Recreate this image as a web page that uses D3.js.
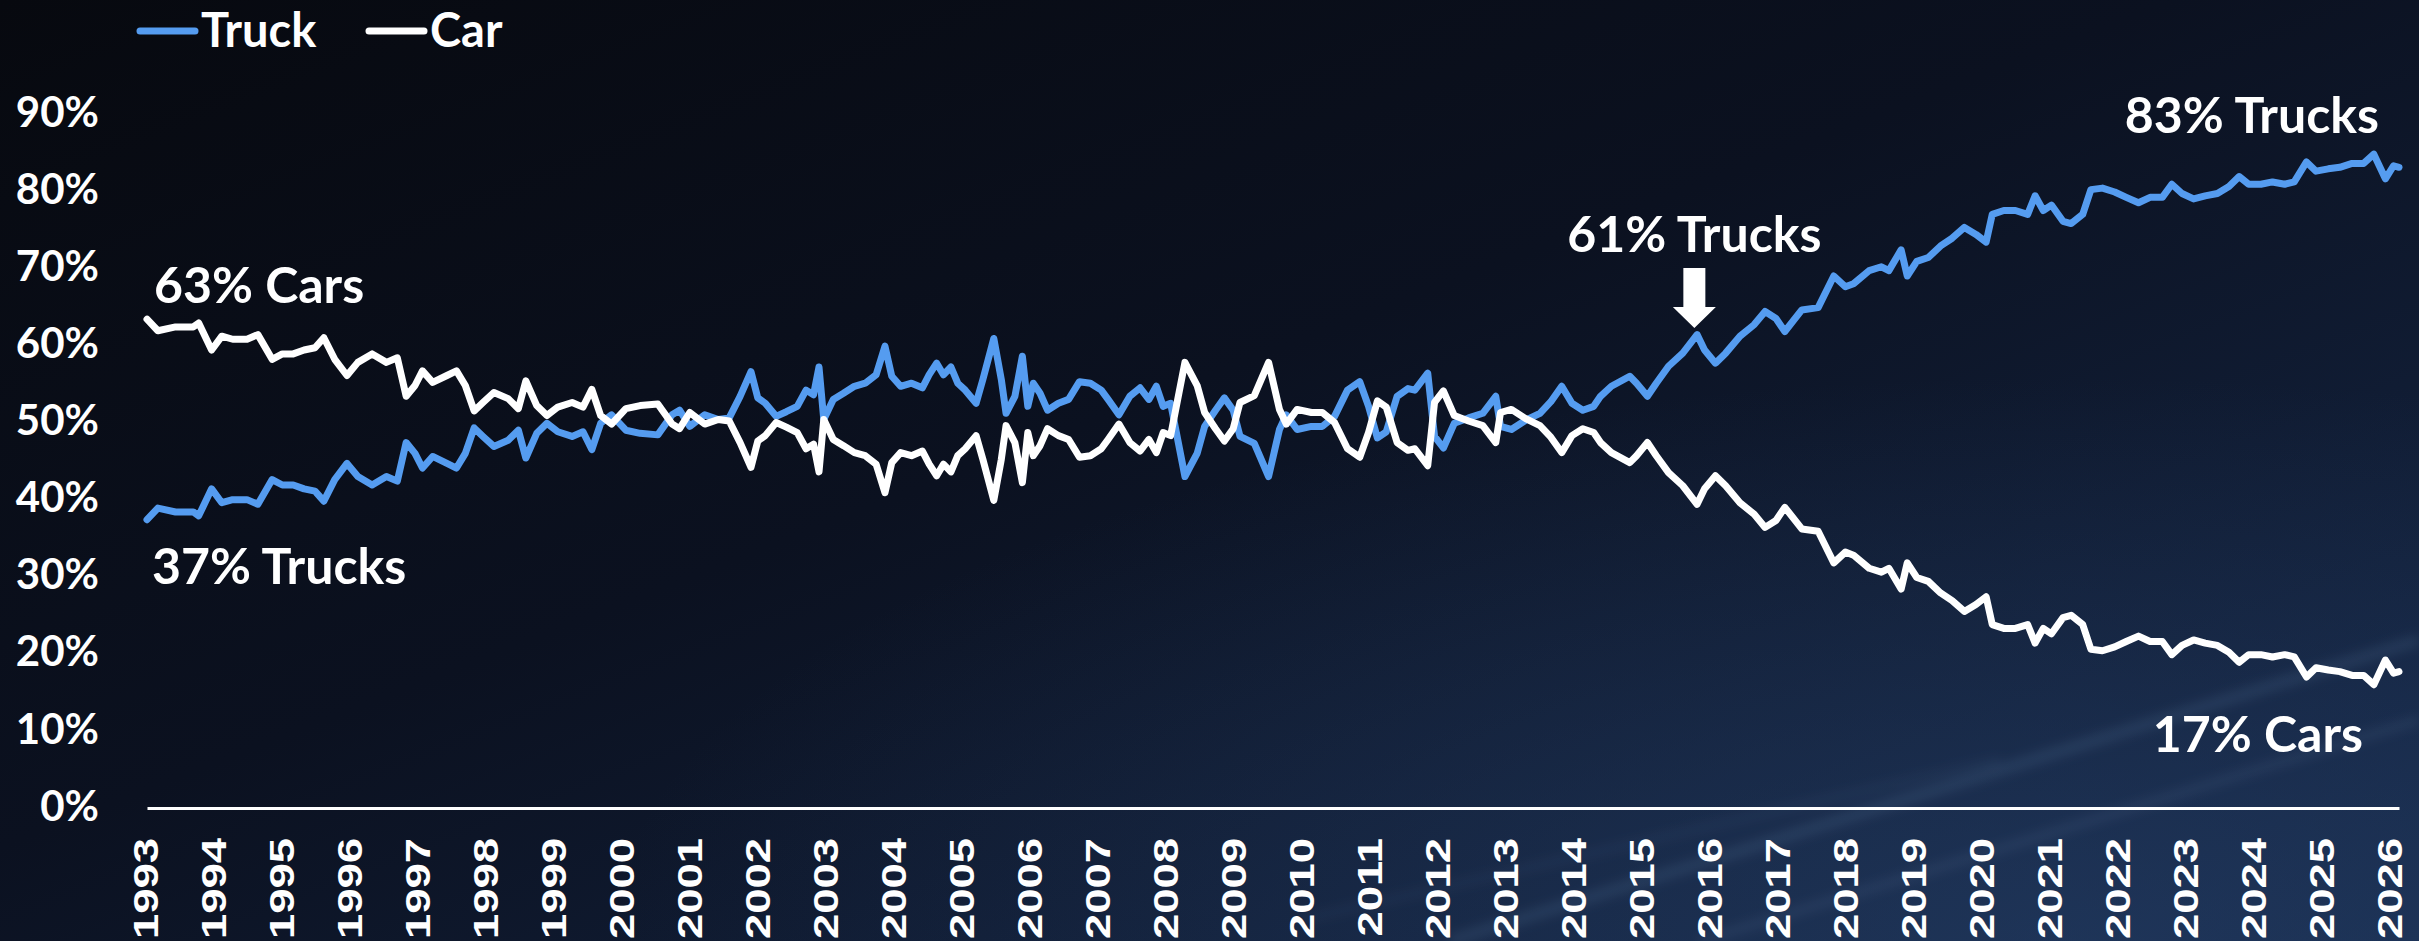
<!DOCTYPE html>
<html>
<head>
<meta charset="utf-8">
<script src="https://cdn.jsdelivr.net/npm/d3@7"></script>
<style>
  html, body { margin: 0; padding: 0; background: #0a0e18; }
  svg { display: block; }
</style>
</head>
<body>
<svg id="chart" width="2419" height="941"></svg>
<script>
// monthly-ish share of new vehicle sales, decimal year
const period = [
  1993.00, 1993.16, 1993.42, 1993.68, 1993.76, 1993.95,
  1994.10, 1994.26, 1994.47, 1994.63, 1994.84, 1994.99,
  1995.15, 1995.31, 1995.47, 1995.60, 1995.76, 1995.94,
  1996.10, 1996.31, 1996.52, 1996.68, 1996.81, 1996.94,
  1997.05, 1997.20, 1997.41, 1997.55, 1997.68, 1997.81, 1997.94,
  1998.10, 1998.31, 1998.46, 1998.57, 1998.73, 1998.88,
  1999.04, 1999.25, 1999.41, 1999.54, 1999.67, 1999.83,
  2000.04, 2000.25, 2000.51, 2000.72, 2000.83, 2000.98,
  2001.20, 2001.40, 2001.56, 2001.72, 2001.88, 2001.98,
  2002.09, 2002.25, 2002.40, 2002.56, 2002.69, 2002.80, 2002.88, 2002.95,
  2003.09, 2003.24, 2003.40, 2003.56, 2003.72, 2003.85, 2003.95,
  2004.08, 2004.24, 2004.40, 2004.50, 2004.61, 2004.71, 2004.82, 2004.92,
  2005.03, 2005.19, 2005.29, 2005.45, 2005.56, 2005.63, 2005.76, 2005.87, 2005.95,
  2006.03, 2006.13, 2006.24, 2006.40, 2006.55, 2006.71, 2006.87,
  2007.03, 2007.13, 2007.29, 2007.45, 2007.60, 2007.73, 2007.84, 2007.94,
  2008.05, 2008.26, 2008.44, 2008.55, 2008.71, 2008.84, 2008.97,
  2009.07, 2009.28, 2009.49, 2009.65, 2009.75, 2009.91,
  2010.12, 2010.28, 2010.46, 2010.65, 2010.83, 2010.96,
  2011.09, 2011.22, 2011.38, 2011.54, 2011.64, 2011.83, 2011.93,
  2012.06, 2012.22, 2012.43, 2012.64, 2012.83, 2012.90,
  2013.06, 2013.27, 2013.48, 2013.64, 2013.80, 2013.95,
  2014.11, 2014.27, 2014.37, 2014.53, 2014.80, 2014.90,
  2015.06, 2015.19, 2015.37, 2015.58, 2015.79, 2015.90,
  2016.06, 2016.21, 2016.42, 2016.63, 2016.79, 2016.95,
  2017.08, 2017.33, 2017.57, 2017.80, 2017.97,
  2018.09, 2018.32, 2018.50, 2018.61, 2018.79, 2018.88,
  2019.02, 2019.19, 2019.37, 2019.54, 2019.72, 2019.89,
  2020.04, 2020.13, 2020.30, 2020.47, 2020.65, 2020.76, 2020.88,
  2021.00, 2021.17, 2021.29, 2021.46, 2021.58, 2021.75, 2021.93,
  2022.10, 2022.28, 2022.45, 2022.63, 2022.77, 2022.92,
  2023.09, 2023.26, 2023.44, 2023.61, 2023.76, 2023.90,
  2024.08, 2024.25, 2024.43, 2024.57, 2024.75, 2024.89,
  2025.07, 2025.24, 2025.42, 2025.59, 2025.74, 2025.91,
  2026.03, 2026.11
];

const truckShare = [
  37.0, 38.5, 38.0, 38.0, 37.5, 41.0,
  39.2, 39.6, 39.6, 39.0, 42.2, 41.5,
  41.5, 41.0, 40.7, 39.4, 42.2, 44.3,
  42.6, 41.5, 42.6, 42.0, 47.0, 45.6,
  43.7, 45.2, 44.3, 43.7, 45.6, 48.9, 47.8,
  46.5, 47.3, 48.6, 45.0, 48.2, 49.5,
  48.4, 47.8, 48.4, 46.1, 49.5, 50.6,
  48.6, 48.2, 48.0, 50.6, 51.2, 49.1,
  50.6, 50.0, 50.2, 53.0, 56.2, 52.8,
  52.1, 50.4, 51.0, 51.7, 53.8, 53.2, 56.8, 50.0,
  52.6, 53.4, 54.3, 54.7, 55.8, 59.5, 55.6,
  54.3, 54.7, 54.1, 55.8, 57.3, 55.8, 56.8, 54.7,
  53.8, 52.1, 55.2, 60.5, 55.2, 50.8, 53.0, 58.2, 51.7,
  54.7, 53.4, 51.2, 52.1, 52.6, 54.9, 54.7,
  53.8, 52.6, 50.6, 53.0, 54.1, 52.6, 54.3, 51.7,
  52.1, 42.6, 45.6, 49.1, 51.2, 52.8, 51.2,
  47.8, 46.9, 42.6, 48.7, 50.6, 48.7,
  49.1, 49.1, 50.4, 53.8, 54.9, 51.7,
  47.6, 48.4, 53.0, 54.0, 53.8, 56.0, 47.8,
  46.3, 49.5, 50.2, 50.8, 53.0, 49.1,
  48.7, 49.9, 50.8, 52.3, 54.3, 52.1,
  51.2, 51.7, 53.0, 54.3, 55.6, 54.7,
  53.0, 54.7, 56.9, 58.6, 61.0, 59.0,
  57.3, 58.6, 60.8, 62.3, 64.0, 63.1,
  61.4, 64.2, 64.5, 68.6, 67.2,
  67.6, 69.3, 69.8, 69.3, 72.0, 68.6,
  70.5, 71.0, 72.5, 73.5, 74.9, 74.0,
  73.0, 76.6, 77.1, 77.1, 76.6, 79.0, 77.1,
  77.8, 75.7, 75.4, 76.6, 79.8, 80.0, 79.5,
  78.8, 78.1, 78.8, 78.8, 80.5, 79.3,
  78.6, 79.0, 79.3, 80.2, 81.5, 80.5,
  80.5, 80.8, 80.5, 80.8, 83.4, 82.2,
  82.5, 82.7, 83.2, 83.2, 84.4, 81.2,
  82.9, 82.7
];

const carShare = [
  63.0, 61.5, 62.0, 62.0, 62.5, 59.0,
  60.8, 60.4, 60.4, 61.0, 57.8, 58.5,
  58.5, 59.0, 59.3, 60.6, 57.8, 55.7,
  57.4, 58.5, 57.4, 58.0, 53.0, 54.4,
  56.3, 54.8, 55.7, 56.3, 54.4, 51.1, 52.2,
  53.5, 52.7, 51.4, 55.0, 51.8, 50.5,
  51.6, 52.2, 51.6, 53.9, 50.5, 49.4,
  51.4, 51.8, 52.0, 49.4, 48.8, 50.9,
  49.4, 50.0, 49.8, 47.0, 43.8, 47.2,
  47.9, 49.6, 49.0, 48.3, 46.2, 46.8, 43.2, 50.0,
  47.4, 46.6, 45.7, 45.3, 44.2, 40.5, 44.4,
  45.7, 45.3, 45.9, 44.2, 42.7, 44.2, 43.2, 45.3,
  46.2, 47.9, 44.8, 39.5, 44.8, 49.2, 47.0, 41.8, 48.3,
  45.3, 46.6, 48.8, 47.9, 47.4, 45.1, 45.3,
  46.2, 47.4, 49.4, 47.0, 45.9, 47.4, 45.7, 48.3,
  47.9, 57.4, 54.4, 50.9, 48.8, 47.2, 48.8,
  52.2, 53.1, 57.4, 51.3, 49.4, 51.3,
  50.9, 50.9, 49.6, 46.2, 45.1, 48.3,
  52.4, 51.6, 47.0, 46.0, 46.2, 44.0, 52.2,
  53.7, 50.5, 49.8, 49.2, 47.0, 50.9,
  51.3, 50.1, 49.2, 47.7, 45.7, 47.9,
  48.8, 48.3, 47.0, 45.7, 44.4, 45.3,
  47.0, 45.3, 43.1, 41.4, 39.0, 41.0,
  42.7, 41.4, 39.2, 37.7, 36.0, 36.9,
  38.6, 35.8, 35.5, 31.4, 32.8,
  32.4, 30.7, 30.2, 30.7, 28.0, 31.4,
  29.5, 29.0, 27.5, 26.5, 25.1, 26.0,
  27.0, 23.4, 22.9, 22.9, 23.4, 21.0, 22.9,
  22.2, 24.3, 24.6, 23.4, 20.2, 20.0, 20.5,
  21.2, 21.9, 21.2, 21.2, 19.5, 20.7,
  21.4, 21.0, 20.7, 19.8, 18.5, 19.5,
  19.5, 19.2, 19.5, 19.2, 16.6, 17.8,
  17.5, 17.3, 16.8, 16.8, 15.6, 18.8,
  17.1, 17.3
];

const yearTicks = [1993, 1994, 1995, 1996, 1997, 1998, 1999, 2000, 2001, 2002, 2003,
  2004, 2005, 2006, 2007, 2008, 2009, 2010, 2011, 2012, 2013, 2014, 2015, 2016,
  2017, 2018, 2019, 2020, 2021, 2022, 2023, 2024, 2025, 2026];
const pctTicks = [0, 10, 20, 30, 40, 50, 60, 70, 80, 90];

const seriesNames = ['Truck', 'Car'];
const seriesColors = ['#559cf0', '#ffffff'];

const width = 2419;
const height = 941;
const labelFont = 'Lato, "Open Sans", sans-serif';
const tickFont = '"Liberation Sans", Arial, sans-serif';

const svg = d3.select('#chart');

// background: dark navy with a faint light streak bottom right
const defs = svg.append('defs');
const bg = defs.append('linearGradient').attr('id', 'bg')
  .attr('x1', 0).attr('y1', 0).attr('x2', 1).attr('y2', 1);
bg.append('stop').attr('offset', 0).attr('stop-color', '#07090f');
bg.append('stop').attr('offset', 0.45).attr('stop-color', '#0b1120');
bg.append('stop').attr('offset', 1).attr('stop-color', '#16294a');
const glow = defs.append('radialGradient').attr('id', 'glow')
  .attr('cx', 0.85).attr('cy', 1).attr('r', 0.6);
glow.append('stop').attr('offset', 0).attr('stop-color', '#2a4670').attr('stop-opacity', 0.45);
glow.append('stop').attr('offset', 1).attr('stop-color', '#2a4670').attr('stop-opacity', 0);
defs.append('filter').attr('id', 'blur')
  .append('feGaussianBlur').attr('stdDeviation', 6);

svg.append('rect').attr('width', width).attr('height', height).attr('fill', 'url(#bg)');
svg.append('rect').attr('width', width).attr('height', height).attr('fill', 'url(#glow)');
const streaks = svg.append('g').attr('filter', 'url(#blur)').attr('stroke', '#9fc2ee');
streaks.append('line').attr('x1', 1450).attr('y1', 941).attr('x2', 2419).attr('y2', 640)
  .attr('stroke-width', 10).attr('stroke-opacity', 0.12);
streaks.append('line').attr('x1', 1700).attr('y1', 941).attr('x2', 2419).attr('y2', 720)
  .attr('stroke-width', 5).attr('stroke-opacity', 0.15);
streaks.append('line').attr('x1', 1300).attr('y1', 920).attr('x2', 2000).attr('y2', 760)
  .attr('stroke-width', 4).attr('stroke-opacity', 0.1);

const x = d3.scaleLinear().domain([1993, 2026.11]).range([147, 2399]);
const y = d3.scaleLinear().domain([0, 90]).range([805, 111]);

// y axis
const yAxis = svg.append('g')
  .attr('transform', 'translate(99,0)')
  .call(d3.axisLeft(y).tickValues(pctTicks).tickFormat(d => d + '%').tickSize(0).tickPadding(0));
yAxis.select('.domain').remove();
yAxis.attr('font-family', labelFont).attr('font-size', 42).attr('font-weight', 700);
yAxis.selectAll('text').attr('fill', '#fff').attr('dy', '0.36em');

// x axis, year labels read bottom-to-top and are drawn a bit stretched
const xAxis = svg.append('g')
  .attr('transform', 'translate(0,' + (y(0) + 3) + ')')
  .call(d3.axisBottom(x).tickValues(yearTicks).tickFormat(d3.format('d')).tickSize(0).tickSizeOuter(0));
xAxis.select('.domain').attr('stroke', '#fff').attr('stroke-width', 3);
xAxis.attr('font-family', tickFont).attr('font-size', 35).attr('font-weight', 700);
xAxis.selectAll('text')
  .attr('fill', '#fff')
  .attr('transform', 'rotate(-90) scale(1.3,1)')
  .attr('text-anchor', 'end')
  .attr('x', -23)
  .attr('y', -2)
  .attr('dy', '0.35em');

// lines
const rows = period.map((p, i) => ({p: p, Truck: truckShare[i], Car: carShare[i]}));
seriesNames.forEach((name, i) => {
  svg.append('path')
    .datum(rows)
    .attr('fill', 'none')
    .attr('stroke', seriesColors[i])
    .attr('stroke-width', 7)
    .attr('stroke-linejoin', 'round')
    .attr('stroke-linecap', 'round')
    .attr('d', d3.line().x(d => x(d.p)).y(d => y(d[name])));
});

// legend
const legendX = [140, 369];
const legend = svg.append('g');
seriesNames.forEach((name, i) => {
  legend.append('line')
    .attr('x1', legendX[i]).attr('x2', legendX[i] + 55)
    .attr('y1', 31).attr('y2', 31)
    .attr('stroke', seriesColors[i]).attr('stroke-width', 7)
    .attr('stroke-linecap', 'round');
  legend.append('text')
    .attr('x', legendX[i] + 61).attr('y', 47)
    .attr('font-family', labelFont).attr('font-size', 47).attr('font-weight', 700)
    .attr('fill', '#fff')
    .text(name);
});

// annotations
const notes = [
  {text: '63% Cars', px: x(1993) + 7, py: y(63) - 16, anchor: 'start'},
  {text: '37% Trucks', px: x(1993) + 5, py: y(37) + 64, anchor: 'start'},
  {text: '61% Trucks', px: x(2015.75), py: y(62) - 75, anchor: 'middle'},
  {text: '83% Trucks', px: x(2026.11) - 20, py: y(83) - 32, anchor: 'end'},
  {text: '17% Cars', px: x(2026.11) - 36, py: y(17) + 78, anchor: 'end'}
];
svg.append('g').selectAll('text')
  .data(notes)
  .join('text')
  .attr('x', d => d.px)
  .attr('y', d => d.py)
  .attr('text-anchor', d => d.anchor)
  .attr('font-family', labelFont).attr('font-size', 50).attr('font-weight', 700)
  .attr('fill', '#fff')
  .text(d => d.text);

// arrow pointing at the 61% point
const tx = x(2015.75), ty = y(62) + 1;
svg.append('path')
  .attr('fill', '#fff')
  .attr('d', 'M' + (tx - 11) + ',' + (ty - 60) + 'L' + (tx + 11) + ',' + (ty - 60) +
    'L' + (tx + 11) + ',' + (ty - 21) + 'L' + (tx + 21.5) + ',' + (ty - 21) +
    'L' + tx + ',' + ty + 'L' + (tx - 21.5) + ',' + (ty - 21) +
    'L' + (tx - 11) + ',' + (ty - 21) + 'Z');
</script>
</body>
</html>
